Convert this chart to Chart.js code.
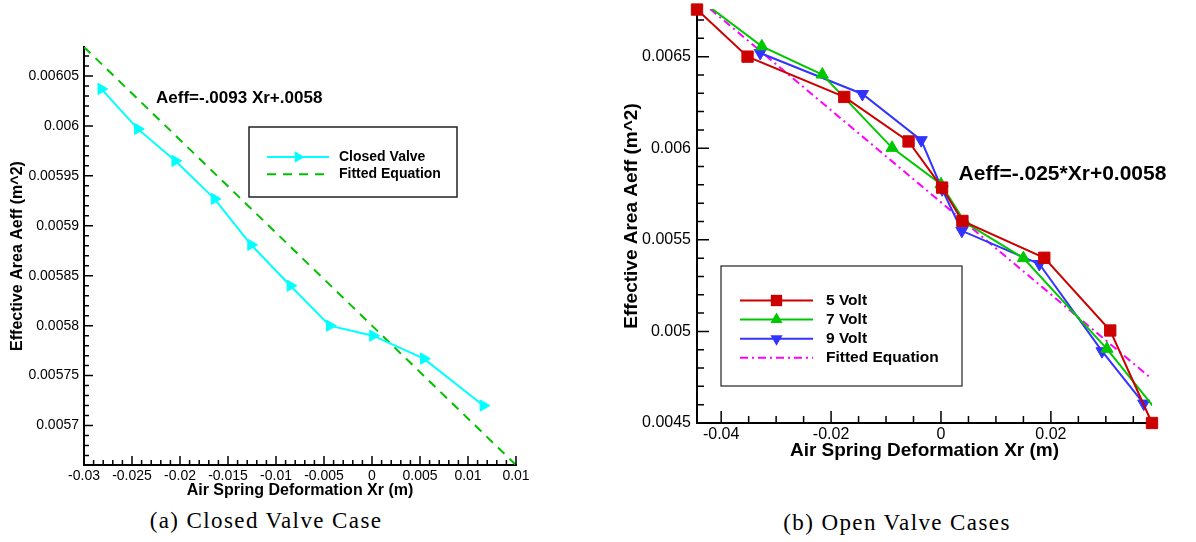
<!DOCTYPE html>
<html lang="en">
<head>
<meta charset="UTF-8" />
<title>Effective Area vs Air Spring Deformation</title>
<script src="https://cdn.jsdelivr.net/npm/chart.js@4.4.1/dist/chart.umd.min.js"></script>
<style>
  body { margin: 0; background: #fff; width: 1196px; height: 542px; position: relative; overflow: hidden; }
  .panel { position: absolute; top: 0; }
  .caption {
    position: absolute; transform: translate(-50%, -50%);
    font-family: "Liberation Serif", "DejaVu Serif", serif; font-size: 23px;
    letter-spacing: 1.4px; color: #000; white-space: nowrap;
  }
</style>
</head>
<body>

<div class="panel" style="left:0;width:560px;height:500px"><canvas id="closedChart"></canvas></div>
<div class="panel" style="left:580px;width:616px;height:462px"><canvas id="openChart"></canvas></div>
<div class="caption" style="left:266px;top:521px">(a) Closed Valve Case</div>
<div class="caption" style="left:897px;top:523px">(b) Open Valve Cases</div>

<script>
// ---- (a) closed valve ----
const closedX = [-0.0282, -0.0244, -0.0205, -0.0164, -0.0126, -0.0085, -0.0044, 0.0001, 0.0054, 0.0116];
const closedY = [0.006037, 0.005997, 0.005965, 0.005927, 0.005881, 0.005840, 0.005800, 0.005790, 0.005767, 0.005720];
const fitClosedX = [-0.03, 0.015];
const fitClosedY = [0.006079, 0.0056605];
const closedXTicks = [-0.03, -0.025, -0.02, -0.015, -0.01, -0.005, 0, 0.005, 0.01, 0.015];
const closedXLabels = ["-0.03", "-0.025", "-0.02", "-0.015", "-0.01", "-0.005", "0", "0.005", "0.01", "0.01"];
const closedYTicks = [0.0057, 0.00575, 0.0058, 0.00585, 0.0059, 0.00595, 0.006, 0.00605];
const closedYLabels = ["0.0057", "0.00575", "0.0058", "0.00585", "0.0059", "0.00595", "0.006", "0.00605"];

// ---- (b) open valve ----
const volt5X = [-0.0444, -0.0352, -0.0176, -0.0059, 0.0002, 0.0039, 0.0188, 0.0308, 0.0384];
const volt5Y = [0.006757, 0.00650, 0.00628, 0.006037, 0.005785, 0.005603, 0.005402, 0.005005, 0.0045];
const volt7X = [-0.0465, -0.0326, -0.0216, -0.0089, 0.0, 0.0044, 0.0150, 0.0302, 0.0409];
const volt7Y = [0.00687, 0.006556, 0.006402, 0.006002, 0.005803, 0.005594, 0.005400, 0.004905, 0.004505];
const volt9X = [-0.0329, -0.0143, -0.0036, 0.0002, 0.0038, 0.0179, 0.0293, 0.0369];
const volt9Y = [0.00652, 0.006296, 0.006044, 0.005776, 0.005549, 0.005368, 0.004892, 0.004606];
const fitOpenX = [-0.0420, 0.0380];
const fitOpenY = [0.00676, 0.00475];
const openXTicks = [-0.04, -0.02, 0, 0.02];
const openXLabels = ["-0.04", "-0.02", "0", "0.02"];
const openYTicks = [0.0045, 0.005, 0.0055, 0.006, 0.0065];
const openYLabels = ["0.0045", "0.005", "0.0055", "0.006", "0.0065"];

const FONT = '"Liberation Sans", Arial, Helvetica, sans-serif';
const pts = (xs, ys) => xs.map((x, i) => ({ x, y: ys[i] }));

function axis(o) {
  return {
    type: 'linear',
    min: o.min, max: o.max,
    grid: { display: false, drawTicks: false, tickLength: 0 },
    border: { display: true, color: '#000', width: 2 },
    title: {
      display: true, text: o.title, color: '#000',
      font: { family: FONT, size: o.titleSize, weight: 'bold' },
      padding: o.titlePad
    },
    ticks: {
      color: '#000', font: { family: FONT, size: o.tickSize }, padding: o.tickPad,
      autoSkip: false, maxRotation: 0,
      callback: (v, i) => o.labels[i]
    },
    afterBuildTicks: s => { s.ticks = o.ticks.map(v => ({ value: v })); },
    afterFit: s => {
      if (s.isHorizontal()) s.height = o.size; else s.width = o.size;
      s.paddingLeft = s.paddingRight = s.paddingTop = s.paddingBottom = 0;
    }
  };
}

function marker(ctx, style, r, rot, cx, cy) {
  ctx.save();
  ctx.translate(cx, cy);
  ctx.rotate(rot * Math.PI / 180);
  ctx.beginPath();
  if (style === 'rect') {
    const s = r * Math.SQRT1_2;
    ctx.rect(-s, -s, 2 * s, 2 * s);
  } else {
    for (let i = 0; i < 3; i++) {
      const a = -Math.PI / 2 + i * 2 * Math.PI / 3;
      ctx.lineTo(r * Math.cos(a), r * Math.sin(a));
    }
    ctx.closePath();
  }
  ctx.fill();
  ctx.restore();
}

// inward tecplot-style ticks, equation text and boxed legend
const tecplotFrame = {
  id: 'tecplotFrame',
  afterDraw(chart, args, o) {
    const { ctx, chartArea: a, scales: { x, y } } = chart;
    ctx.save();
    ctx.strokeStyle = '#000';
    ctx.lineWidth = 1.5;
    ctx.beginPath();
    const isMajor = (s, v) => s.ticks.some(t => Math.abs(t.value - v) < 1e-9);
    x.ticks.forEach(t => {
      const px = x.getPixelForValue(t.value);
      ctx.moveTo(px, a.bottom); ctx.lineTo(px, a.bottom - o.majorLen);
    });
    for (let k = Math.ceil(x.min / o.xMinor - 1e-6); k * o.xMinor <= x.max + 1e-9; k++) {
      const v = k * o.xMinor;
      if (isMajor(x, v)) continue;
      const px = x.getPixelForValue(v);
      ctx.moveTo(px, a.bottom); ctx.lineTo(px, a.bottom - o.minorLen);
    }
    y.ticks.forEach(t => {
      const py = y.getPixelForValue(t.value);
      ctx.moveTo(a.left, py); ctx.lineTo(a.left + o.majorLen, py);
    });
    for (let k = Math.ceil(y.min / o.yMinor - 1e-6); k * o.yMinor <= y.max + 1e-12; k++) {
      const v = k * o.yMinor;
      if (isMajor(y, v)) continue;
      const py = y.getPixelForValue(v);
      ctx.moveTo(a.left, py); ctx.lineTo(a.left + o.minorLen, py);
    }
    ctx.stroke();

    // equation
    ctx.fillStyle = '#000';
    ctx.font = 'bold ' + o.note.size + 'px ' + FONT;
    ctx.textAlign = 'left';
    ctx.textBaseline = 'middle';
    ctx.fillText(o.note.text, x.getPixelForValue(o.note.x), y.getPixelForValue(o.note.y));

    // legend
    const L = o.legend;
    ctx.fillStyle = '#fff';
    ctx.fillRect(L.left, L.top, L.width, L.height);
    ctx.strokeStyle = '#222';
    ctx.lineWidth = L.border;
    ctx.strokeRect(L.left, L.top, L.width, L.height);
    ctx.font = 'bold ' + L.size + 'px ' + FONT;
    chart.data.datasets.forEach((ds, i) => {
      const ry = L.top + L.row0 + i * L.rowH;
      ctx.strokeStyle = ds.borderColor;
      ctx.lineWidth = ds.borderWidth;
      ctx.setLineDash(ds.borderDash || []);
      ctx.beginPath();
      ctx.moveTo(L.left + L.s0, ry); ctx.lineTo(L.left + L.s1, ry);
      ctx.stroke();
      ctx.setLineDash([]);
      if (ds.pointRadius > 0) {
        ctx.fillStyle = ds.pointBackgroundColor;
        marker(ctx, ds.pointStyle, ds.pointRadius, ds.pointRotation || 0, L.left + (L.s0 + L.s1) / 2, ry);
      }
      ctx.fillStyle = '#000';
      ctx.fillText(ds.label, L.left + L.tx, ry);
    });
    ctx.restore();
  }
};

function series(label, xs, ys, color, extra) {
  return Object.assign({
    label, data: pts(xs, ys), borderColor: color, backgroundColor: color,
    pointBackgroundColor: color, pointBorderColor: color, pointBorderWidth: 1,
    borderWidth: 2, tension: 0, pointRadius: 0, pointHoverRadius: 0
  }, extra);
}

const common = {
  animation: false, responsive: true, maintainAspectRatio: false, devicePixelRatio: 1,
  events: []
};

new Chart(document.getElementById('closedChart'), {
  type: 'line',
  data: {
    datasets: [
      series('Closed Valve', closedX, closedY, '#00ffff',
        { pointRadius: 6.5, pointStyle: 'triangle', pointRotation: 90 }),
      series('Fitted Equation', fitClosedX, fitClosedY, '#00c000', { borderDash: [9, 7] })
    ]
  },
  options: Object.assign({}, common, {
    layout: { padding: { top: 47, left: 0, right: 44, bottom: 0 } },
    scales: {
      x: axis({ min: -0.03, max: 0.015, ticks: closedXTicks, labels: closedXLabels,
        title: 'Air Spring Deformation Xr (m)', titleSize: 16, titlePad: { top: 0, bottom: 0 },
        tickSize: 14, tickPad: 3, size: 35 }),
      y: axis({ min: 0.0056605, max: 0.006079, ticks: closedYTicks, labels: closedYLabels,
        title: 'Effective Area Aeff (m^2)', titleSize: 16, titlePad: { top: 8, bottom: 0 },
        tickSize: 14, tickPad: 5, size: 84 })
    },
    plugins: {
      legend: { display: false }, tooltip: { enabled: false },
      tecplotFrame: {
        xMinor: 0.001, yMinor: 0.00001, majorLen: 9, minorLen: 5,
        note: { text: 'Aeff=-.0093 Xr+.0058', x: -0.0225, y: 0.006028, size: 17 },
        legend: { left: 249, top: 127, width: 208, height: 70, row0: 30, rowH: 17.3,
          s0: 18, s1: 80, tx: 90, size: 14, border: 1.5 }
      }
    }
  }),
  plugins: [tecplotFrame]
});

new Chart(document.getElementById('openChart'), {
  type: 'line',
  data: {
    datasets: [
      series('5 Volt', volt5X, volt5Y, '#cc0000', { pointRadius: 8, pointStyle: 'rect', clip: 12 }),
      series('7 Volt', volt7X, volt7Y, '#00c800', { pointRadius: 7, pointStyle: 'triangle', clip: 0 }),
      series('9 Volt', volt9X, volt9Y, '#3333ff', { pointRadius: 7, pointStyle: 'triangle', pointRotation: 180, clip: 12 }),
      series('Fitted Equation', fitOpenX, fitOpenY, '#ff00ff', { borderDash: [8, 4, 2, 4] })
    ]
  },
  options: Object.assign({}, common, {
    layout: { padding: { top: 8, left: 0, right: 44, bottom: 0 } },
    scales: {
      x: axis({ min: -0.0444, max: 0.0384, ticks: openXTicks, labels: openXLabels,
        title: 'Air Spring Deformation Xr (m)', titleSize: 19, titlePad: { top: 0, bottom: 0 },
        tickSize: 16, tickPad: 2, size: 39 }),
      y: axis({ min: 0.0045, max: 0.00676, ticks: openYTicks, labels: openYLabels,
        title: 'Effective Area Aeff (m^2)', titleSize: 19, titlePad: { top: 40, bottom: 0 },
        tickSize: 16, tickPad: 6, size: 117 })
    },
    plugins: {
      legend: { display: false }, tooltip: { enabled: false },
      tecplotFrame: {
        xMinor: 0.005, yMinor: 0.0001, majorLen: 12, minorLen: 7,
        note: { text: 'Aeff=-.025*Xr+0.0058', x: 0.0032, y: 0.005859, size: 21 },
        legend: { left: 141, top: 266, width: 241, height: 120, row0: 34.5, rowH: 19.1,
          s0: 19, s1: 92, tx: 105, size: 15.5, border: 1.2 }
      }
    }
  }),
  plugins: [tecplotFrame]
});
</script>
</body>
</html>
